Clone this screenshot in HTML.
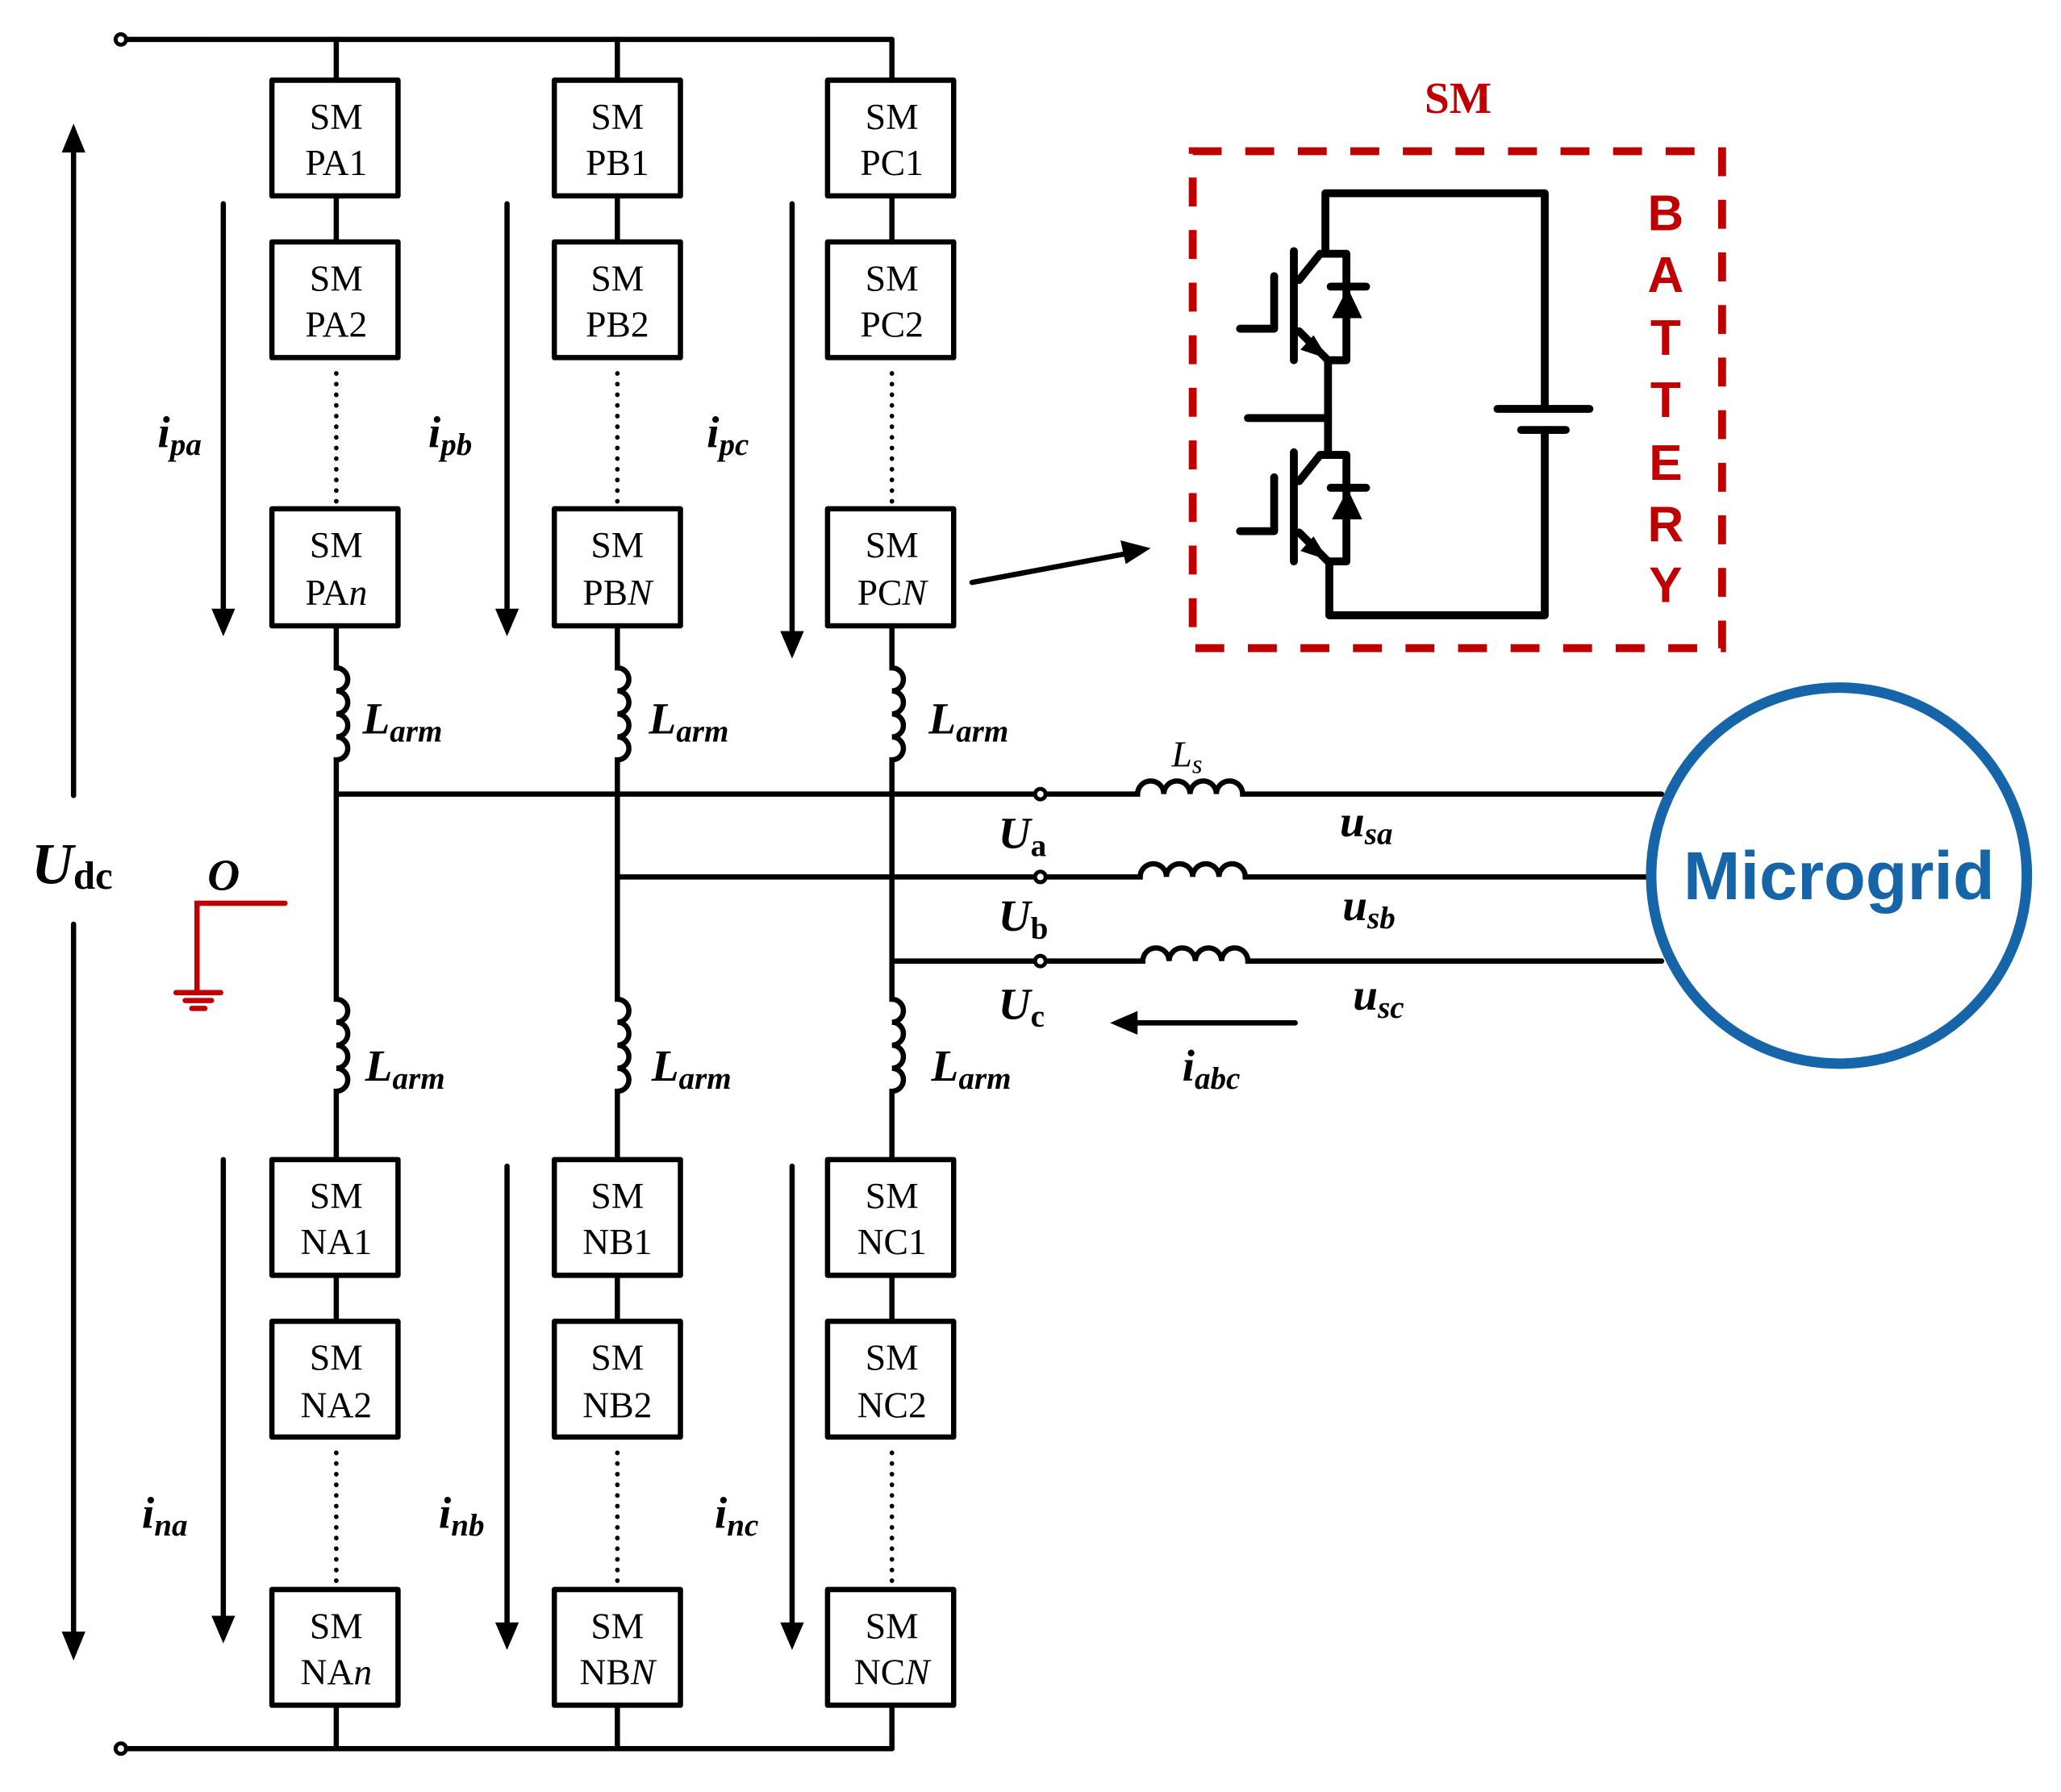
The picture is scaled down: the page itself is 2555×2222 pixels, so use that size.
<!DOCTYPE html>
<html><head><meta charset="utf-8"><style>
html,body{margin:0;padding:0;background:#fff;}
svg{display:block;}
text{font-family:"Liberation Serif",serif;}
text.sans{font-family:"Liberation Sans",sans-serif;}
.sm{font-size:28px;text-anchor:middle;}
.lb{font-size:34px;font-weight:bold;font-style:italic;}
.sub{font-size:24px;}
</style></head><body>
<svg width="2555" height="2222" viewBox="0 0 1569 1363" preserveAspectRatio="none" xmlns="http://www.w3.org/2000/svg">
<g stroke="#000" stroke-width="4" fill="none" stroke-linecap="round">
<line x1="92" y1="30" x2="679" y2="30"/>
<line x1="92" y1="1330" x2="679" y2="1330"/>
<circle cx="92" cy="30" r="4" fill="#fff" stroke-width="3"/>
<circle cx="92" cy="1330" r="4" fill="#fff" stroke-width="3"/>
<line x1="256" y1="30" x2="256" y2="61"/><line x1="256" y1="149" x2="256" y2="184"/>
<line x1="470" y1="30" x2="470" y2="61"/><line x1="470" y1="149" x2="470" y2="184"/>
<line x1="679" y1="30" x2="679" y2="61"/><line x1="679" y1="149" x2="679" y2="184"/>
<line x1="256" y1="970" x2="256" y2="1005"/><line x1="470" y1="970" x2="470" y2="1005"/><line x1="679" y1="970" x2="679" y2="1005"/>
<line x1="256" y1="1297" x2="256" y2="1330"/><line x1="470" y1="1297" x2="470" y2="1330"/><line x1="679" y1="1297" x2="679" y2="1330"/>
<path d="M256 476 V508 a8.75 8.75 0 0 1 0 17.5 a8.75 8.75 0 0 1 0 17.5 a8.75 8.75 0 0 1 0 17.5 a8.75 8.75 0 0 1 0 17.5 V760 a8.75 8.75 0 0 1 0 17.5 a8.75 8.75 0 0 1 0 17.5 a8.75 8.75 0 0 1 0 17.5 a8.75 8.75 0 0 1 0 17.5 V882"/>
<path d="M470 476 V508 a8.75 8.75 0 0 1 0 17.5 a8.75 8.75 0 0 1 0 17.5 a8.75 8.75 0 0 1 0 17.5 a8.75 8.75 0 0 1 0 17.5 V760 a8.75 8.75 0 0 1 0 17.5 a8.75 8.75 0 0 1 0 17.5 a8.75 8.75 0 0 1 0 17.5 a8.75 8.75 0 0 1 0 17.5 V882"/>
<path d="M679 476 V508 a8.75 8.75 0 0 1 0 17.5 a8.75 8.75 0 0 1 0 17.5 a8.75 8.75 0 0 1 0 17.5 a8.75 8.75 0 0 1 0 17.5 V760 a8.75 8.75 0 0 1 0 17.5 a8.75 8.75 0 0 1 0 17.5 a8.75 8.75 0 0 1 0 17.5 a8.75 8.75 0 0 1 0 17.5 V882"/>
<g stroke-dasharray="0.1 8" stroke-width="3.5">
<line x1="256" y1="284" x2="256" y2="384"/><line x1="470" y1="284" x2="470" y2="384"/><line x1="679" y1="284" x2="679" y2="384"/>
<line x1="256" y1="1105" x2="256" y2="1205"/><line x1="470" y1="1105" x2="470" y2="1205"/><line x1="679" y1="1105" x2="679" y2="1205"/>
</g>
<g stroke-linejoin="round">
<rect x="207" y="61" width="96" height="88"/><rect x="207" y="184" width="96" height="88"/><rect x="207" y="387" width="96" height="89"/>
<rect x="422" y="61" width="96" height="88"/><rect x="422" y="184" width="96" height="88"/><rect x="422" y="387" width="96" height="89"/>
<rect x="630" y="61" width="96" height="88"/><rect x="630" y="184" width="96" height="88"/><rect x="630" y="387" width="96" height="89"/>
<rect x="207" y="882" width="96" height="88"/><rect x="207" y="1005" width="96" height="88"/><rect x="207" y="1209" width="96" height="88"/>
<rect x="422" y="882" width="96" height="88"/><rect x="422" y="1005" width="96" height="88"/><rect x="422" y="1209" width="96" height="88"/>
<rect x="630" y="882" width="96" height="88"/><rect x="630" y="1005" width="96" height="88"/><rect x="630" y="1209" width="96" height="88"/>
</g>
<path d="M256 604 H866 a10 10 0 0 1 20 0 a10 10 0 0 1 20 0 a10 10 0 0 1 20 0 a10 10 0 0 1 20 0 H1265"/>
<path d="M470 667 H868 a10 10 0 0 1 20 0 a10 10 0 0 1 20 0 a10 10 0 0 1 20 0 a10 10 0 0 1 20 0 H1255"/>
<path d="M679 731 H870 a10 10 0 0 1 20 0 a10 10 0 0 1 20 0 a10 10 0 0 1 20 0 a10 10 0 0 1 20 0 H1265"/>
<circle cx="792" cy="604" r="4" fill="#fff" stroke-width="3"/>
<circle cx="792" cy="667" r="4" fill="#fff" stroke-width="3"/>
<circle cx="792" cy="731" r="4" fill="#fff" stroke-width="3"/>
<line x1="170" y1="155" x2="170" y2="466"/><line x1="386" y1="155" x2="386" y2="466"/><line x1="603" y1="155" x2="603" y2="483"/>
<line x1="170" y1="882" x2="170" y2="1232"/><line x1="386" y1="887" x2="386" y2="1237"/><line x1="603" y1="887" x2="603" y2="1237"/>
<line x1="56" y1="112" x2="56" y2="605"/><line x1="56" y1="703" x2="56" y2="1245"/>
<line x1="986" y1="778" x2="862" y2="778"/>
<line x1="740" y1="443" x2="858" y2="421"/>
</g>
<g fill="#000">
<polygon points="161,463 179,463 170,484"/><polygon points="377,463 395,463 386,484"/><polygon points="594,480 612,480 603,501"/>
<polygon points="161,1229 179,1229 170,1250"/><polygon points="377,1234 395,1234 386,1255"/><polygon points="594,1234 612,1234 603,1255"/>
<polygon points="47,116 65,116 56,94"/><polygon points="47,1241 65,1241 56,1263"/>
<polygon points="845,778 866,769 866,787"/>
<polygon points="876,417 853,411 857,429"/>
</g>
<g>
<text x="256" y="98" class="sm">SM</text><text x="256" y="133" class="sm">PA1</text>
<text x="256" y="221" class="sm">SM</text><text x="256" y="256" class="sm">PA2</text>
<text x="256" y="424" class="sm">SM</text><text x="256" y="460" class="sm">PA<tspan font-style="italic">n</tspan></text>
<text x="470" y="98" class="sm">SM</text><text x="470" y="133" class="sm">PB1</text>
<text x="470" y="221" class="sm">SM</text><text x="470" y="256" class="sm">PB2</text>
<text x="470" y="424" class="sm">SM</text><text x="470" y="460" class="sm">PB<tspan font-style="italic">N</tspan></text>
<text x="679" y="98" class="sm">SM</text><text x="679" y="133" class="sm">PC1</text>
<text x="679" y="221" class="sm">SM</text><text x="679" y="256" class="sm">PC2</text>
<text x="679" y="424" class="sm">SM</text><text x="679" y="460" class="sm">PC<tspan font-style="italic">N</tspan></text>
<text x="256" y="919" class="sm">SM</text><text x="256" y="954" class="sm">NA1</text>
<text x="256" y="1042" class="sm">SM</text><text x="256" y="1078" class="sm">NA2</text>
<text x="256" y="1246" class="sm">SM</text><text x="256" y="1281" class="sm">NA<tspan font-style="italic">n</tspan></text>
<text x="470" y="919" class="sm">SM</text><text x="470" y="954" class="sm">NB1</text>
<text x="470" y="1042" class="sm">SM</text><text x="470" y="1078" class="sm">NB2</text>
<text x="470" y="1246" class="sm">SM</text><text x="470" y="1281" class="sm">NB<tspan font-style="italic">N</tspan></text>
<text x="679" y="919" class="sm">SM</text><text x="679" y="954" class="sm">NC1</text>
<text x="679" y="1042" class="sm">SM</text><text x="679" y="1078" class="sm">NC2</text>
<text x="679" y="1246" class="sm">SM</text><text x="679" y="1281" class="sm">NC<tspan font-style="italic">N</tspan></text>
</g>
<g>
<text x="276" y="558" class="lb">L<tspan class="sub" dy="6">arm</tspan></text>
<text x="494" y="558" class="lb">L<tspan class="sub" dy="6">arm</tspan></text>
<text x="707" y="558" class="lb">L<tspan class="sub" dy="6">arm</tspan></text>
<text x="278" y="822" class="lb">L<tspan class="sub" dy="6">arm</tspan></text>
<text x="496" y="822" class="lb">L<tspan class="sub" dy="6">arm</tspan></text>
<text x="709" y="822" class="lb">L<tspan class="sub" dy="6">arm</tspan></text>
<text x="120" y="340" class="lb">i<tspan class="sub" dy="6">pa</tspan></text>
<text x="326" y="340" class="lb">i<tspan class="sub" dy="6">pb</tspan></text>
<text x="538" y="340" class="lb">i<tspan class="sub" dy="6">pc</tspan></text>
<text x="108" y="1162" class="lb">i<tspan class="sub" dy="6">na</tspan></text>
<text x="334" y="1162" class="lb">i<tspan class="sub" dy="6">nb</tspan></text>
<text x="544" y="1162" class="lb">i<tspan class="sub" dy="6">nc</tspan></text>
<text x="900" y="822" class="lb">i<tspan class="sub" dy="6">abc</tspan></text>
<text x="1020" y="636" class="lb">u<tspan class="sub" dy="6">sa</tspan></text>
<text x="1022" y="700" class="lb">u<tspan class="sub" dy="6">sb</tspan></text>
<text x="1030" y="768" class="lb">u<tspan class="sub" dy="6">sc</tspan></text>
<text x="760" y="645" class="lb">U<tspan font-size="24" font-style="normal" dy="6">a</tspan></text>
<text x="760" y="708" class="lb">U<tspan font-size="24" font-style="normal" dy="6">b</tspan></text>
<text x="760" y="775" class="lb">U<tspan font-size="24" font-style="normal" dy="6">c</tspan></text>
<text x="892" y="583" font-size="28" font-style="italic">L<tspan font-size="20" dy="5">s</tspan></text>
<text x="158" y="677" font-size="32" class="lb">O</text>
<text x="24" y="672" font-size="44" class="lb" style="font-size:44px">U<tspan font-size="30" font-style="normal" dy="4">dc</tspan></text>
</g>
<g stroke="#c00000" stroke-width="4" fill="none" stroke-linecap="round">
<path d="M217 687 H150 V755"/>
<line x1="134" y1="755" x2="168" y2="755"/>
<line x1="141" y1="761" x2="161" y2="761"/>
<line x1="146" y1="767" x2="156" y2="767"/>
</g>
<circle cx="1400" cy="666" r="143" fill="none" stroke="#1565a8" stroke-width="8"/>
<text x="1400" y="684" text-anchor="middle" class="sans" font-weight="bold" font-size="52" fill="#1565a8">Microgrid</text>
<text x="1110" y="86" text-anchor="middle" font-size="34" font-weight="bold" fill="#c00000">SM</text>
<rect x="908" y="115" width="403" height="378" fill="none" stroke="#c00000" stroke-width="6" stroke-dasharray="22 18"/>
<g font-weight="bold" font-size="38" fill="#c00000" text-anchor="middle">
<text class="sans" x="1268" y="175">B</text><text class="sans" x="1268" y="222">A</text><text class="sans" x="1268" y="270">T</text><text class="sans" x="1268" y="317">T</text><text class="sans" x="1268" y="365">E</text><text class="sans" x="1268" y="412">R</text><text class="sans" x="1268" y="458">Y</text>
</g>
<g stroke="#000" stroke-width="6" fill="none" stroke-linecap="round" stroke-linejoin="round">
<path d="M1009 193 V147 H1176 V311"/>
<line x1="1140" y1="311" x2="1210" y2="311"/>
<line x1="1158" y1="327" x2="1192" y2="327"/>
<path d="M1176 327 V468 H1012 V427"/>
<line x1="985" y1="191" x2="985" y2="274"/>
<path d="M944 250 H970 V210"/>
<path d="M989 213 L1005 193 H1025 V274 H1011 L989 252"/>
<line x1="1013" y1="218" x2="1040" y2="218"/>
<line x1="1011" y1="274" x2="1011" y2="346"/>
<line x1="950" y1="318" x2="1011" y2="318"/>
<line x1="985" y1="344" x2="985" y2="427"/>
<path d="M944 404 H970 V363"/>
<path d="M989 366 L1005 346 H1025 V427 H1011 L989 405"/>
<line x1="1013" y1="371" x2="1040" y2="371"/>
</g>
<g fill="#000">
<polygon points="1026,219 1014,242 1037,242"/>
<polygon points="1026,372 1014,395 1037,395"/>
<polygon points="1011,273 990,266 1000,255"/>
<polygon points="1011,426 990,419 1000,408"/>
</g>
</svg>
</body></html>
